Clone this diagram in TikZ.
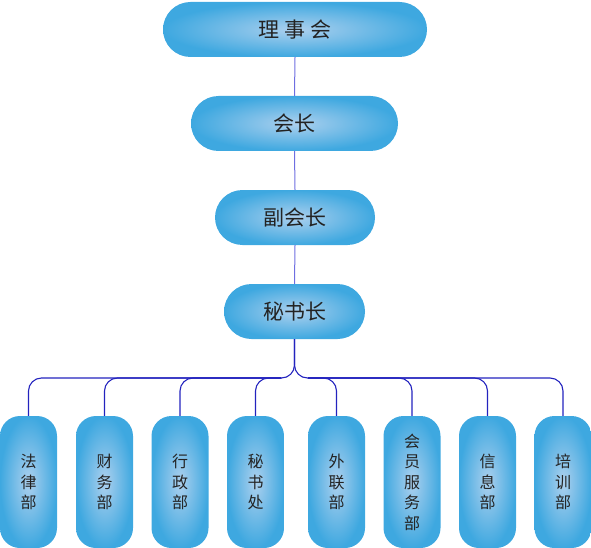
\documentclass[tikz,border=0pt]{standalone}
\usepackage{fontspec}
\setmainfont{Noto Sans CJK SC}
\definecolor{boxout}{RGB}{62,168,224}
\definecolor{boxin}{RGB}{172,208,238}
\definecolor{linetop}{RGB}{110,110,225}
\definecolor{linebus}{RGB}{35,35,190}
\definecolor{txt}{RGB}{35,35,35}
\begin{document}
\begin{tikzpicture}[x=1pt,y=-1pt,
  topbox/.style={shading=radial,inner color=boxin,outer color=boxout,
    rounded corners=27.5pt,minimum height=55pt,inner sep=0pt,
    text=txt,font=\fontsize{21}{24}\selectfont},
  deptbox/.style={shading=radial,inner color=boxin,outer color=boxout,
    rounded corners=20pt,minimum width=57pt,minimum height=132pt,inner sep=0pt,
    text=txt,align=center,font=\fontsize{16}{20.5}\selectfont},
  upline/.style={draw=linetop,line width=1pt},
  busline/.style={draw=linebus,line width=1.1pt,rounded corners=13pt}]
\useasboundingbox (0,0) rectangle (591,548);
\node[topbox,minimum width=264pt] (board) at (295,29.5) {理 事 会};
\node[topbox,minimum width=207pt] (pres) at (294.5,123.5) {会长};
\node[topbox,minimum width=160pt] (vice) at (295,217.5) {副会长};
\node[topbox,minimum width=141pt] (secg) at (294.5,311.5) {秘书长};
\node[deptbox] (d1) at (28.5,482) {法\\律\\部};
\node[deptbox] (d2) at (104.5,482) {财\\务\\部};
\node[deptbox] (d3) at (180,482) {行\\政\\部};
\node[deptbox] (d4) at (255.5,482) {秘\\书\\处};
\node[deptbox] (d5) at (336.5,482) {外\\联\\部};
\node[deptbox] (d6) at (412,482) {会\\员\\服\\务\\部};
\node[deptbox] (d7) at (487.5,482) {信\\息\\部};
\node[deptbox] (d8) at (563,482) {培\\训\\部};
\draw[upline] (board.south) -- (pres.north);
\draw[upline] (pres.south) -- (vice.north);
\draw[upline] (vice.south) -- (secg.north);
\coordinate (jl) at (281,378);
\coordinate (jr) at (308,378);
\draw[busline] (jl) -| (secg.south);
\draw[busline] (jr) -| (secg.south);
\foreach \d in {d1,d2,d3,d4}{\draw[busline] (\d.north) |- (jl);}
\foreach \d in {d5,d6,d7,d8}{\draw[busline] (\d.north) |- (jr);}
\end{tikzpicture}
\end{document}
